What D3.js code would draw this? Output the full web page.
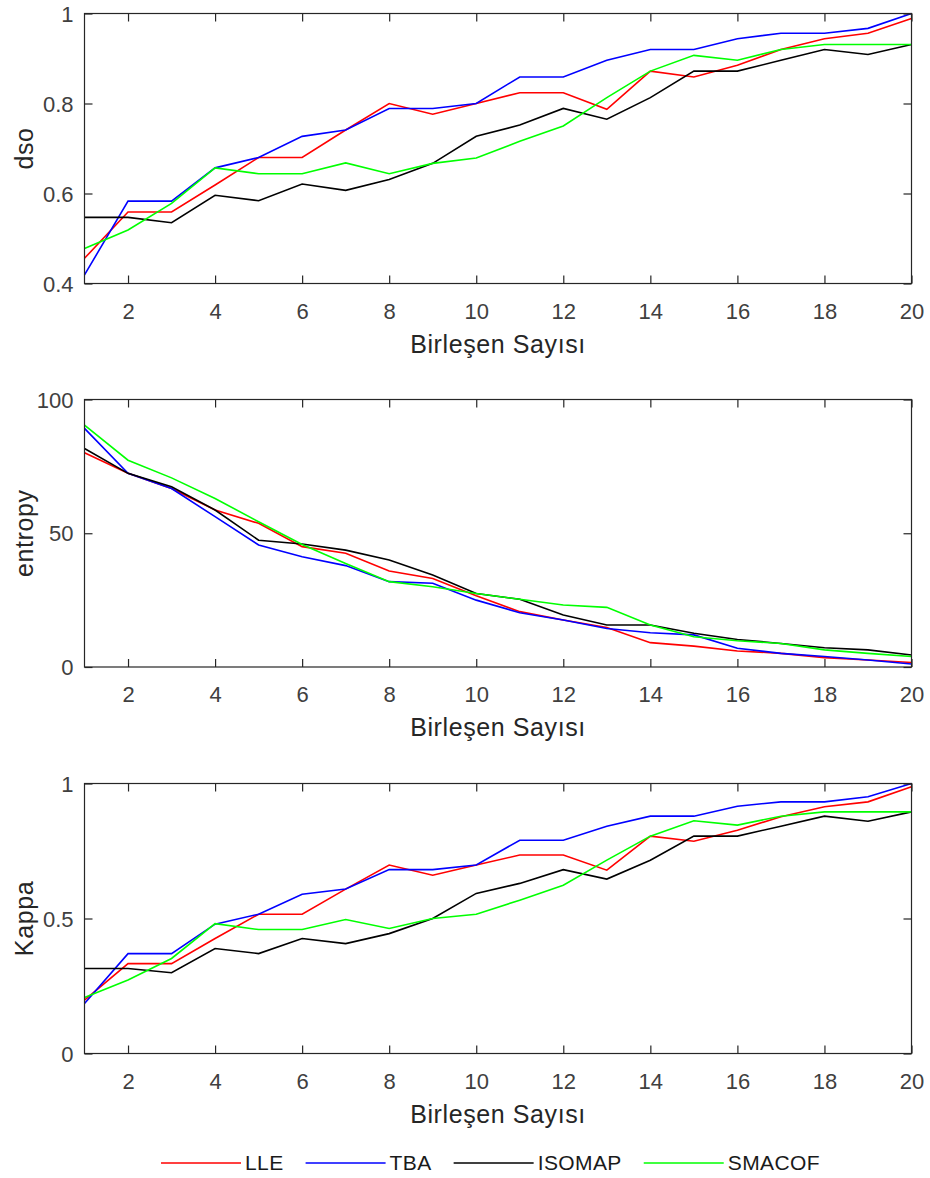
<!DOCTYPE html>
<html><head><meta charset="utf-8">
<script src="https://cdn.jsdelivr.net/npm/d3@7"></script>
<style>
html,body{margin:0;padding:0;background:#fff;}
svg{display:block;font-family:"Liberation Sans",Arial,Helvetica,sans-serif;}
</style></head>
<body><svg id="c" width="930" height="1178"></svg>
<script>
const categories = [1,2,3,4,5,6,7,8,9,10,11,12,13,14,15,16,17,18,19,20];
const seriesNames = ["LLE","TBA","ISOMAP","SMACOF"];
const seriesColors = ["#ff0000","#0000ff","#000000","#00ff00"];
const xTicks = [2,4,6,8,10,12,14,16,18,20];
const xLabel = "Birleşen Sayısı";

const dsoLLE    = [0.456,0.559,0.559,0.619,0.680,0.680,0.741,0.800,0.776,0.800,0.824,0.824,0.787,0.872,0.859,0.885,0.920,0.944,0.956,0.989];
const dsoTBA    = [0.419,0.583,0.583,0.657,0.680,0.727,0.741,0.789,0.789,0.800,0.859,0.859,0.896,0.920,0.920,0.944,0.956,0.956,0.967,1.000];
const dsoISOMAP = [0.547,0.547,0.535,0.596,0.584,0.621,0.607,0.631,0.667,0.727,0.752,0.789,0.765,0.813,0.872,0.872,0.896,0.920,0.909,0.931];
const dsoSMACOF = [0.478,0.519,0.578,0.657,0.644,0.644,0.668,0.644,0.667,0.679,0.716,0.750,0.813,0.872,0.907,0.896,0.920,0.931,0.931,0.931];

const entLLE    = [80.1,72.4,66.7,58.7,53.7,45.0,42.5,35.9,33.1,26.6,20.7,17.6,14.8,9.1,7.8,6.0,5.1,3.5,2.6,1.7];
const entTBA    = [89.2,72.4,66.7,56.2,45.6,41.2,37.9,31.9,31.3,25.0,20.3,17.6,14.4,12.8,12.0,7.0,5.1,3.9,2.6,1.1];
const entISOMAP = [81.7,72.4,67.4,58.7,47.4,46.0,43.7,40.0,34.4,27.5,25.3,19.4,15.7,15.7,12.6,10.3,8.8,7.2,6.4,4.5];
const entSMACOF = [90.4,77.3,70.7,63.0,54.3,45.8,38.7,31.9,30.0,27.5,25.3,23.2,22.3,15.7,11.3,9.8,8.8,6.4,5.1,3.9];

const kapLLE    = [0.198,0.333,0.333,0.426,0.516,0.516,0.609,0.698,0.660,0.698,0.735,0.735,0.679,0.805,0.786,0.827,0.877,0.914,0.932,0.988];
const kapTBA    = [0.185,0.370,0.370,0.479,0.516,0.590,0.609,0.681,0.681,0.698,0.790,0.790,0.842,0.879,0.879,0.916,0.932,0.932,0.951,1.000];
const kapISOMAP = [0.315,0.315,0.299,0.389,0.370,0.426,0.407,0.444,0.500,0.593,0.630,0.681,0.646,0.716,0.805,0.805,0.842,0.879,0.860,0.895];
const kapSMACOF = [0.207,0.272,0.352,0.481,0.459,0.459,0.496,0.463,0.500,0.516,0.568,0.623,0.716,0.805,0.862,0.846,0.879,0.895,0.895,0.895];

const dsoTicks = [0.4,0.6,0.8,1];
const dsoTickLabels = ["0.4","0.6","0.8","1"];
const entTicks = [0,50,100];
const entTickLabels = ["0","50","100"];
const kapTicks = [0,0.5,1];
const kapTickLabels = ["0","0.5","1"];

const panels = [
  {ylabel:"dso", domain:[0.4,1], ticks:dsoTicks, labels:dsoTickLabels, series:[dsoLLE,dsoTBA,dsoISOMAP,dsoSMACOF], top:13.5, bottom:283.5},
  {ylabel:"entropy", domain:[0,100], ticks:entTicks, labels:entTickLabels, series:[entLLE,entTBA,entISOMAP,entSMACOF], top:399.5, bottom:667},
  {ylabel:"Kappa", domain:[0,1], ticks:kapTicks, labels:kapTickLabels, series:[kapLLE,kapTBA,kapISOMAP,kapSMACOF], top:783.5, bottom:1053.5}
];

const svg = d3.select("#c");
const left = 84.5, right = 911.5;
const axisColor = "#262626";
const tickLen = 8;
const x = d3.scaleLinear().domain([1,20]).range([left,right]);

panels.forEach(p => {
  const y = d3.scaleLinear().domain(p.domain).range([p.bottom,p.top]);
  const g = svg.append("g");

  const line = d3.line().x((d,i)=>x(categories[i])).y(d=>y(d));
  p.series.forEach((s,k)=>{
    g.append("path").datum(s).attr("d",line)
      .attr("fill","none").attr("stroke",seriesColors[k]).attr("stroke-width",1.6)
      .attr("stroke-linejoin","miter");
  });

  g.append("rect").attr("x",left).attr("y",p.top).attr("width",right-left).attr("height",p.bottom-p.top)
    .attr("fill","none").attr("stroke",axisColor).attr("stroke-width",1.2);

  const xb = d3.axisBottom(x).tickValues(xTicks).tickSize(-tickLen).tickFormat(d3.format("d"));
  const gb = g.append("g").attr("transform",`translate(0,${p.bottom})`).call(xb);
  const xt = d3.axisTop(x).tickValues(xTicks).tickSize(-tickLen).tickFormat("");
  const gt = g.append("g").attr("transform",`translate(0,${p.top})`).call(xt);

  const yl = d3.axisLeft(y).tickValues(p.ticks).tickSize(-tickLen).tickPadding(11)
     .tickFormat((d,i)=>p.labels[i]);
  const gl = g.append("g").attr("transform",`translate(${left},0)`).call(yl);
  const yr = d3.axisRight(y).tickValues(p.ticks).tickSize(-tickLen).tickFormat("");
  const gr = g.append("g").attr("transform",`translate(${right},0)`).call(yr);

  [gb,gt,gl,gr].forEach(a=>{
    a.select(".domain").remove();
    a.selectAll(".tick line").attr("stroke",axisColor).attr("stroke-width",1.2);
    a.selectAll(".tick text").attr("fill","#404040").style("font-size","22px")
      .style("font-family",'"Liberation Sans",Arial,sans-serif');
  });
  gb.selectAll(".tick text").attr("y",35).attr("dy","0");
  gl.selectAll(".tick text").attr("dy","0.35em");

  g.append("text").attr("x",(left+right)/2).attr("y",p.bottom+69)
    .attr("text-anchor","middle").attr("fill","#262626").style("font-size","25px")
    .style("letter-spacing","0.6px").text(xLabel);
  g.append("text").attr("transform",`translate(33,${(p.top+p.bottom)/2}) rotate(-90)`)
    .attr("text-anchor","middle").attr("fill","#262626").style("font-size","25px")
    .style("letter-spacing","0.6px").text(p.ylabel);
});

// legend
const lg = svg.append("g");
let cx = 0;
seriesNames.forEach((n,k)=>{
  const it = lg.append("g").attr("transform",`translate(${cx},0)`);
  it.append("line").attr("x1",0).attr("x2",80).attr("y1",0).attr("y2",0)
    .attr("stroke",seriesColors[k]).attr("stroke-width",1.6);
  const t = it.append("text").attr("x",84).attr("y",0).attr("dy","0.35em")
    .attr("fill","#1a1a1a").style("font-size","21px").style("letter-spacing","0.4px").text(n);
  const w = t.node().getComputedTextLength();
  cx += 84 + w + 22;
});
const totalW = cx - 22;
lg.attr("transform",`translate(${490.5 - totalW/2},1163)`);
</script>
</body></html>
